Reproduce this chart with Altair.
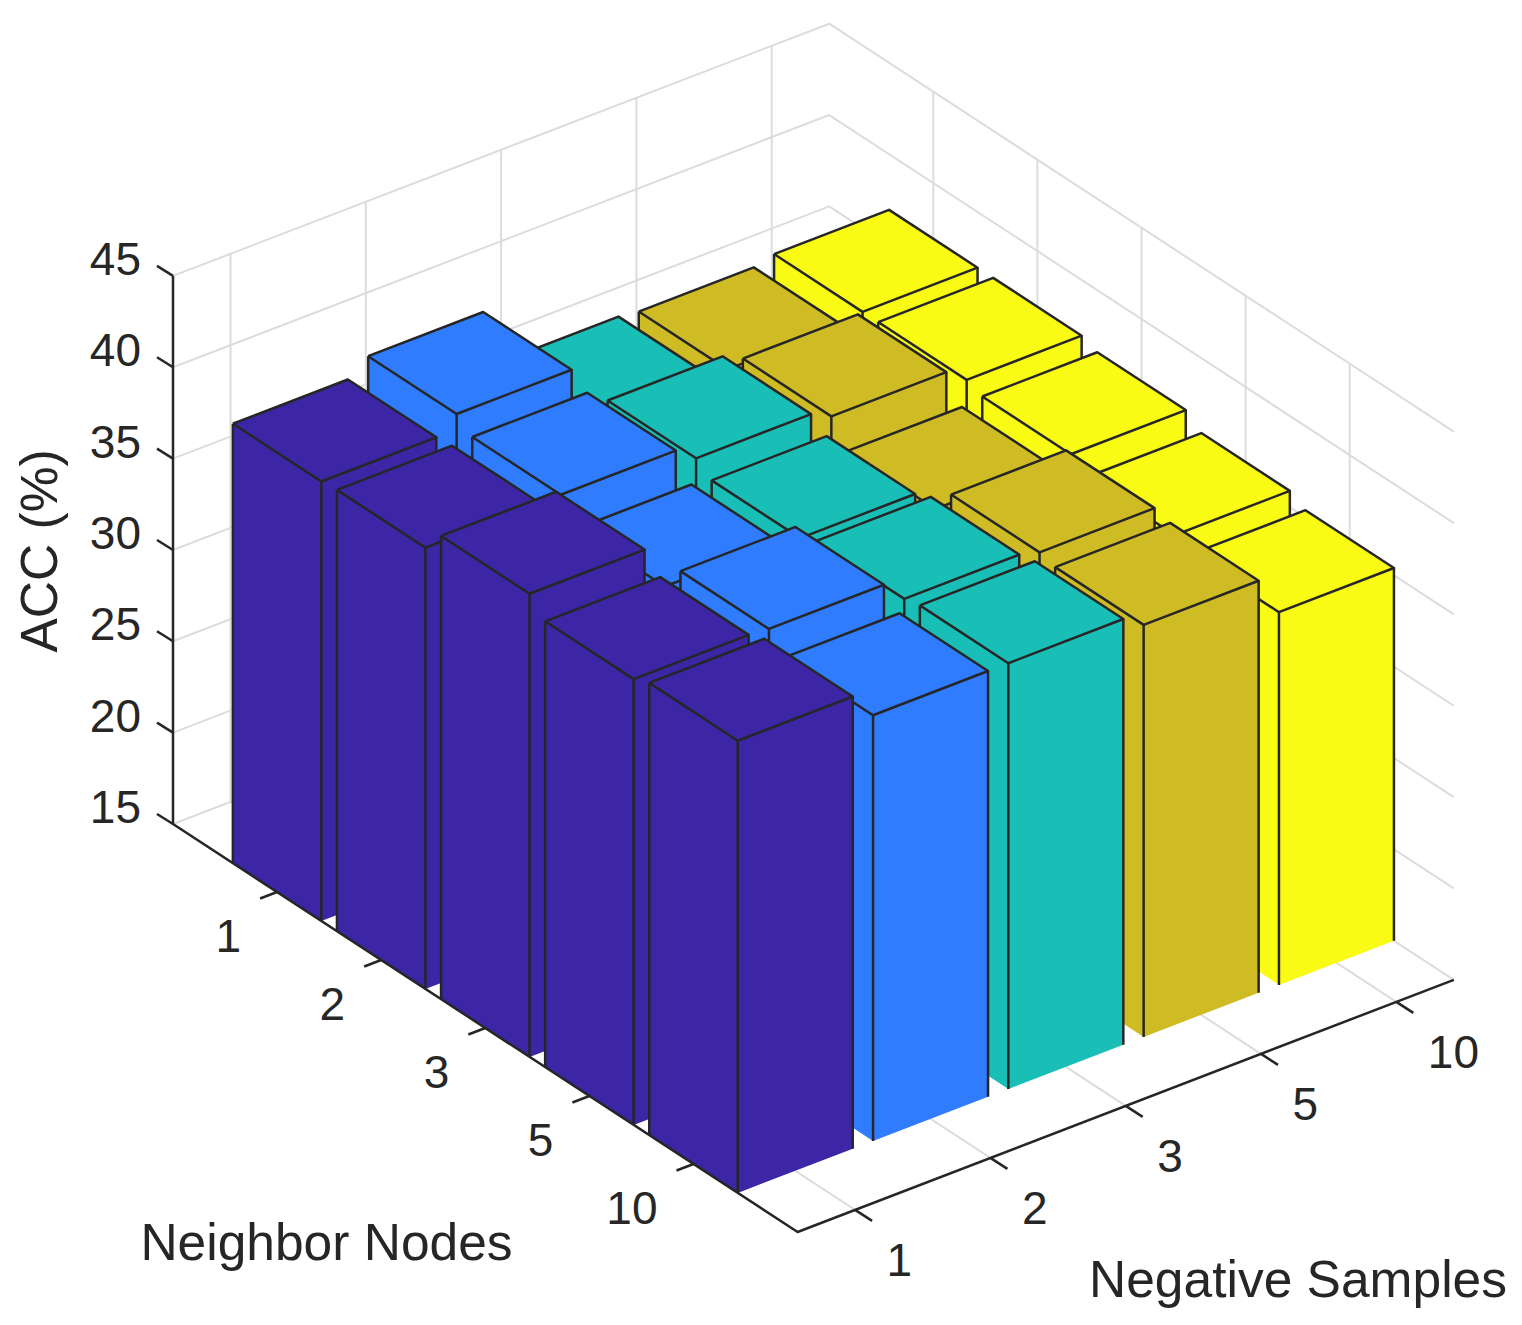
import altair as alt

neighbor_labels = ["1", "2", "3", "5", "10"]
negative_labels = ["1", "2", "3", "5", "10"]
z_ticks = [15, 20, 25, 30, 35, 40, 45]
# ACC[j][i]: j = negative samples index, i = neighbor nodes index
acc = [
    [39.05, 39.15, 40.35, 39.4, 39.75],
    [39.9, 39.2, 37.9, 39.3, 38.3],
    [36.8, 38.35, 37.7, 38.1, 38.3],
    [36.65, 37.8, 36.45, 37.8, 37.55],
    [36.95, 36.95, 36.6, 35.9, 35.4],
]
colors = ["#3c26a6", "#2f7cff", "#19bfb7", "#cfbc25", "#f9fb15"]

GRID = "#dcdcdc"
INK = "#262626"
FONT = "Liberation Sans"
LW = 2.5
HALF = 0.425
I0, I1 = 0.0, 6.0
J0, J1 = 1 - HALF, 5 + HALF
Z0, Z1 = 15.0, 45.0


def P(i, j, z=Z0):
    """Orthographic view of the 3D axes box (page pixels less the 8px margin)."""
    x = 173 + (i - I0) * 104.1 + (j - J0) * 135.3 - 8
    y = 824 + (i - I0) * 68.0 - (j - J0) * 52.0 - (z - Z0) * 18.27 - 8
    return [x, y]


def line(pts, stroke, w):
    return {"type": "Feature",
            "geometry": {"type": "LineString", "coordinates": pts},
            "properties": {"fill": "transparent", "stroke": stroke, "w": w}}


def poly(pts, fill):
    return {"type": "Feature",
            "geometry": {"type": "Polygon", "coordinates": [pts + [pts[0]]]},
            "properties": {"fill": fill, "stroke": "transparent", "w": 0}}


features = []
# grid
for z in z_ticks:
    features.append(line([P(I0, J0, z), P(I0, J1, z), P(I1, J1, z)], GRID, 2))
for k in range(1, 6):
    features.append(line([P(k, J0), P(k, J1), P(k, J1, Z1)], GRID, 2))
    features.append(line([P(I1, k), P(I0, k), P(I0, k, Z1)], GRID, 2))

# bars, back to front
for n in range(1, 6):
    for m in range(5, 0, -1):
        z = acc[m - 1][n - 1]
        c = colors[m - 1]
        a, b = n - HALF, n + HALF
        l, r = m - HALF, m + HALF
        features.append(poly([P(a, l), P(b, l), P(b, l, z), P(a, l, z)], c))
        features.append(poly([P(b, l), P(b, r), P(b, r, z), P(b, l, z)], c))
        features.append(poly([P(a, l, z), P(b, l, z), P(b, r, z), P(a, r, z)], c))
        features.append(line([P(a, l, z), P(b, l, z), P(b, r, z), P(a, r, z), P(a, l, z)], INK, LW))
        features.append(line([P(a, l), P(a, l, z)], INK, LW))
        features.append(line([P(b, l), P(b, l, z)], INK, LW))
        features.append(line([P(b, r), P(b, r, z)], INK, LW))

# axes and ticks
features.append(line([P(I0, J0, Z1), P(I0, J0), P(I1, J0), P(I1, J1)], INK, LW))
for z in z_ticks:
    p = P(I0, J0, z)
    features.append(line([[p[0] - 16, p[1] - 10], p], INK, LW))
for k in range(1, 6):
    p = P(k, J0)
    features.append(line([[p[0] - 17, p[1] + 6.5], p], INK, LW))
    p = P(I1, k)
    features.append(line([p, [p[0] + 17, p[1] + 11]], INK, LW))

proj = dict(type="identity", scale=1, translate=[0, 0])

shapes = (
    alt.Chart(alt.Data(values=features))
    .mark_geoshape(strokeJoin="round", strokeCap="butt")
    .encode(
        fill=alt.Fill("properties.fill:N", scale=None),
        stroke=alt.Stroke("properties.stroke:N", scale=None),
        strokeWidth=alt.StrokeWidth("properties.w:Q", scale=None),
    )
    .project(**proj)
)


def text_layer(rows, size, align, angle=0):
    return (
        alt.Chart(alt.Data(values=rows))
        .mark_text(font=FONT, fontSize=size, color=INK, align=align, baseline="middle", angle=angle)
        .encode(longitude="x:Q", latitude="y:Q", text="t:N")
        .project(**proj)
    )


z_rows = []
for z in z_ticks:
    p = P(I0, J0, z)
    z_rows.append({"x": p[0] - 32, "y": p[1] - 15, "t": str(z)})
i_rows = []
for k, t in enumerate(neighbor_labels, 1):
    p = P(k, J0)
    i_rows.append({"x": p[0] - 36, "y": p[1] + 46, "t": t})
j_rows = []
for k, t in enumerate(negative_labels, 1):
    p = P(I1, k)
    j_rows.append({"x": p[0] + 31.5, "y": p[1] + 52, "t": t})

chart = (
    alt.layer(
        shapes,
        text_layer(z_rows, 46, "right"),
        text_layer(i_rows, 46, "right"),
        text_layer(j_rows, 46, "left"),
        text_layer([{"x": 326.5 - 8, "y": 1245 - 8, "t": "Neighbor Nodes"}], 51.5, "center"),
        text_layer([{"x": 1298 - 8, "y": 1282 - 8, "t": "Negative Samples"}], 51.5, "center"),
        text_layer([{"x": 42 - 8, "y": 551 - 8, "t": "ACC (%)"}], 51.5, "center", 270),
    )
    .properties(width=1506, height=1309, padding=0, autosize=alt.AutoSizeParams(type="none"), background="white")
    .configure_view(stroke=None)
)

chart.save("out.html", embed_options={"renderer": "svg", "actions": False})
